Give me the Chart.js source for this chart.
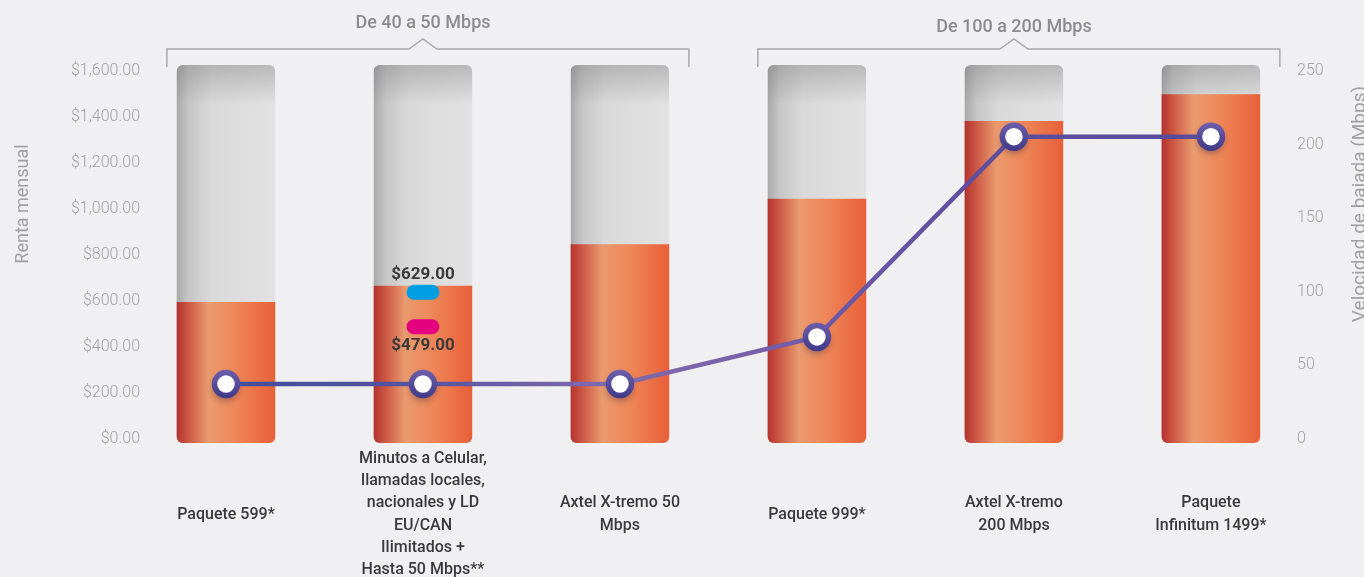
<!DOCTYPE html>
<html>
<head>
<meta charset="utf-8">
<script src="https://cdn.jsdelivr.net/npm/chart.js@4/dist/chart.umd.min.js"></script>
<style>
  html, body { margin: 0; padding: 0; background: #f0f0f2; }
  #wrap { width: 1364px; height: 577px; position: relative; }
</style>
</head>
<body>
<div id="wrap"><canvas id="c"></canvas></div>
<script>
// ---- Data ----
const categories = [
  ['Paquete 599*'],
  ['Minutos a Celular,', 'llamadas locales,', 'nacionales y LD', 'EU/CAN', 'Ilimitados +', 'Hasta 50 Mbps**'],
  ['Axtel X-tremo 50', 'Mbps'],
  ['Paquete 999*'],
  ['Axtel X-tremo', '200 Mbps'],
  ['Paquete', 'Infinitum 1499*']
];
const rentaMensual = [587, 657, 838, 1036, 1374, 1490];
const rentaTope = [1617, 1617, 1617, 1617, 1617, 1617];
const velocidadMbps = [36, 36, 36, 68, 204, 204];
const leftTicks = [0, 200, 400, 600, 800, 1000, 1200, 1400, 1600];
const rightTicks = [0, 50, 100, 150, 200, 250];
const markerCategory = 1;
const markerValues = [629, 479];
const markerLabels = ['$629.00', '$479.00'];
const markerColors = ['#009fe3', '#e4007f'];
const groupLabels = ['De 40 a 50 Mbps', 'De 100 a 200 Mbps'];
const groupStart = [0, 3];
const groupEnd = [2, 5];

// ---- Scale ranges ----
const leftMin = -26, leftMax = 1617;
const rightMin = leftMin * 250 / 1600, rightMax = leftMax * 250 / 1600;
const xMin = -0.4365, xMax = 5.437;

const toXY = arr => arr.map((v, i) => ({ x: i, y: v }));

const FONT = 'Roboto, "Noto Sans", sans-serif';

function catWidth(chart) {
  const xs = chart.scales.x;
  return xs.getPixelForValue(1) - xs.getPixelForValue(0);
}

function grayFill(ctx) {
  const chart = ctx.chart;
  if (!chart.chartArea || ctx.dataIndex === undefined) return '#d8d8d8';
  const x = chart.scales.x.getPixelForValue(ctx.dataIndex);
  const h = catWidth(chart) * 0.25;
  const g = chart.ctx.createLinearGradient(x - h, 0, x + h, 0);
  g.addColorStop(0, '#a9a9a9');
  g.addColorStop(0.12, '#c6c6c6');
  g.addColorStop(0.35, '#d9d9d9');
  g.addColorStop(1, '#e2e2e2');
  return g;
}

function orangeFill(ctx) {
  const chart = ctx.chart;
  if (!chart.chartArea || ctx.dataIndex === undefined) return '#ec8050';
  const x = chart.scales.x.getPixelForValue(ctx.dataIndex);
  const h = catWidth(chart) * 0.25;
  const g = chart.ctx.createLinearGradient(x - h, 0, x + h, 0);
  g.addColorStop(0, '#b5332f');
  g.addColorStop(0.12, '#cc5845');
  g.addColorStop(0.32, '#e99a6e');
  g.addColorStop(0.6, '#ee8658');
  g.addColorStop(1, '#e85f38');
  return g;
}

function lineStroke(ctx) {
  const chart = ctx.chart;
  const ca = chart.chartArea;
  if (!ca) return '#5a509f';
  const g = chart.ctx.createLinearGradient(ca.left, 0, ca.right, 0);
  g.addColorStop(0, '#3c4a9e');
  g.addColorStop(0.25, '#56549f');
  g.addColorStop(0.4, '#8069ac');
  g.addColorStop(0.5, '#7c62aa');
  g.addColorStop(0.6, '#6c58a7');
  g.addColorStop(0.75, '#5d4d9d');
  g.addColorStop(1, '#574a9a');
  return g;
}

function pointRing(ctx) {
  const chart = ctx.chart;
  const el = ctx.element;
  if (!chart.chartArea || !el || el.y === undefined) return '#4e4495';
  const g = chart.ctx.createLinearGradient(0, el.y - 14, 0, el.y + 14);
  g.addColorStop(0, '#6e5eab');
  g.addColorStop(1, '#3f3a88');
  return g;
}

const decorPlugin = {
  id: 'decor',
  afterDatasetDraw(chart, args) {
    const ctx = chart.ctx;
    if (args.index === 0) {
      const meta = chart.getDatasetMeta(0);
      meta.data.forEach(el => {
        const w = el.width, x = el.x - w / 2, y = el.y;
        ctx.save();
        ctx.beginPath();
        ctx.roundRect(x, y, w, el.base - y, 6);
        ctx.clip();
        const g = ctx.createLinearGradient(0, y, 0, y + 40);
        g.addColorStop(0, 'rgba(110,110,110,0.35)');
        g.addColorStop(1, 'rgba(110,110,110,0)');
        ctx.fillStyle = g;
        ctx.fillRect(x, y, w, 40);
        ctx.restore();
      });
    }
    if (args.index === 1) {
      const xs = chart.scales.x, ys = chart.scales.y;
      const cx = xs.getPixelForValue(markerCategory);
      markerValues.forEach((v, i) => {
        const cy = ys.getPixelForValue(v);
        ctx.save();
        ctx.fillStyle = markerColors[i];
        ctx.beginPath();
        ctx.roundRect(cx - 16.5, cy - 7.5, 33, 15, 7.5);
        ctx.fill();
        ctx.fillStyle = '#3a3a3a';
        ctx.font = 'bold 17px ' + FONT;
        ctx.textAlign = 'center';
        ctx.textBaseline = 'middle';
        const off = i === 0 ? -18 : 19;
        ctx.fillText(markerLabels[i], cx, cy + off);
        ctx.restore();
      });
    }
  },
  beforeDatasetDraw(chart, args) {
    if (args.index === 2) {
      const ctx = chart.ctx;
      const meta = chart.getDatasetMeta(2);
      meta.data.forEach(p => {
        ctx.save();
        ctx.shadowColor = 'rgba(30,20,60,0.55)';
        ctx.shadowBlur = 6;
        ctx.shadowOffsetY = 3;
        ctx.fillStyle = 'rgba(50,40,90,0.6)';
        ctx.beginPath();
        ctx.arc(p.x, p.y + 1, 13, 0, Math.PI * 2);
        ctx.fill();
        ctx.restore();
      });
    }
  },
  afterDraw(chart) {
    const ctx = chart.ctx;
    const xs = chart.scales.x;
    const catW = catWidth(chart);
    groupLabels.forEach((lab, i) => {
      const x0 = xs.getPixelForValue(groupStart[i]) - catW * 0.30;
      const x1 = xs.getPixelForValue(groupEnd[i]) + catW * 0.35;
      const xm = (xs.getPixelForValue(groupStart[i]) + xs.getPixelForValue(groupEnd[i])) / 2;
      const yl = 49, yb = 67;
      ctx.save();
      ctx.strokeStyle = '#a9a9a9';
      ctx.lineWidth = 1.5;
      ctx.beginPath();
      ctx.moveTo(x0, yb);
      ctx.lineTo(x0, yl);
      ctx.lineTo(xm - 14, yl);
      ctx.lineTo(xm, yl - 10);
      ctx.lineTo(xm + 14, yl);
      ctx.lineTo(x1, yl);
      ctx.lineTo(x1, yb);
      ctx.stroke();
      ctx.fillStyle = '#8c8c8c';
      ctx.font = '500 18px ' + FONT;
      ctx.textAlign = 'center';
      ctx.textBaseline = 'middle';
      ctx.fillText(lab, xm, i === 0 ? 23 : 27);
      ctx.restore();
    });
    ctx.save();
    ctx.fillStyle = '#a0a0a0';
    ctx.font = '400 18px ' + FONT;
    ctx.textAlign = 'center';
    ctx.textBaseline = 'middle';
    ctx.translate(23, 204);
    ctx.rotate(-Math.PI / 2);
    ctx.fillText('Renta mensual', 0, 0);
    ctx.restore();
    ctx.save();
    ctx.fillStyle = '#a0a0a0';
    ctx.font = '400 19px ' + FONT;
    ctx.textAlign = 'center';
    ctx.textBaseline = 'middle';
    ctx.translate(1360, 204);
    ctx.rotate(-Math.PI / 2);
    ctx.fillText('Velocidad de bajada (Mbps)', 0, 0);
    ctx.restore();
  }
};

new Chart(document.getElementById('c'), {
  data: {
    datasets: [
      {
        type: 'bar',
        label: 'Tope',
        data: toXY(rentaTope),
        yAxisID: 'y',
        base: leftMin,
        grouped: false,
        order: 3,
        backgroundColor: grayFill,
        borderWidth: 0,
        borderSkipped: false,
        borderRadius: 6,
        categoryPercentage: 1,
        barPercentage: 0.5
      },
      {
        type: 'bar',
        label: 'Renta mensual',
        data: toXY(rentaMensual),
        yAxisID: 'y',
        base: leftMin,
        grouped: false,
        order: 2,
        backgroundColor: orangeFill,
        borderWidth: 0,
        borderSkipped: false,
        borderRadius: { topLeft: 0, topRight: 0, bottomLeft: 6, bottomRight: 6 },
        categoryPercentage: 1,
        barPercentage: 0.5
      },
      {
        type: 'line',
        label: 'Velocidad de bajada (Mbps)',
        data: toXY(velocidadMbps),
        yAxisID: 'y1',
        order: 1,
        borderColor: lineStroke,
        borderWidth: 4.5,
        tension: 0,
        pointRadius: 11.5,
        pointHoverRadius: 11.5,
        pointBorderWidth: 5.5,
        pointBackgroundColor: '#ffffff',
        pointBorderColor: pointRing
      }
    ]
  },
  options: {
    responsive: true,
    maintainAspectRatio: false,
    animation: false,
    events: [],
    layout: { padding: { top: 65, left: 0, right: 0, bottom: 0 } },
    plugins: { legend: { display: false }, tooltip: { enabled: false } },
    scales: {
      x: {
        type: 'linear',
        min: xMin,
        max: xMax,
        offset: false,
        grid: { display: false, drawTicks: false },
        border: { display: false },
        afterBuildTicks(s) { s.ticks = categories.map((c, i) => ({ value: i })); },
        afterFit(s) { s.height = 134; },
        ticks: {
          color: '#3a3a3a',
          font: { family: FONT, size: 16, weight: '500', lineHeight: 1.39 },
          padding: 16,
          maxRotation: 0,
          minRotation: 0,
          autoSkip: false,
          crossAlign: 'center',
          callback: v => categories[Math.round(v)]
        }
      },
      y: {
        position: 'left',
        min: leftMin,
        max: leftMax,
        grid: { display: false, drawTicks: false },
        border: { display: false },
        afterBuildTicks(s) { s.ticks = leftTicks.map(v => ({ value: v })); },
        afterFit(s) { s.width = 140; },
        ticks: {
          color: '#a3a3a3',
          font: { family: FONT, size: 16, weight: '300' },
          padding: 0,
          labelOffset: 2,
          callback: v => '$' + Number(v).toLocaleString('en-US', { minimumFractionDigits: 2, maximumFractionDigits: 2 })
        }
      },
      y1: {
        position: 'right',
        min: rightMin,
        max: rightMax,
        grid: { display: false, drawTicks: false },
        border: { display: false },
        afterBuildTicks(s) { s.ticks = rightTicks.map(v => ({ value: v })); },
        afterFit(s) { s.width = 67; },
        ticks: {
          color: '#a3a3a3',
          font: { family: FONT, size: 16, weight: '300' },
          padding: 0,
          labelOffset: 2,
          callback: v => String(v)
        }
      }
    }
  },
  plugins: [decorPlugin]
});
</script>
</body>
</html>
